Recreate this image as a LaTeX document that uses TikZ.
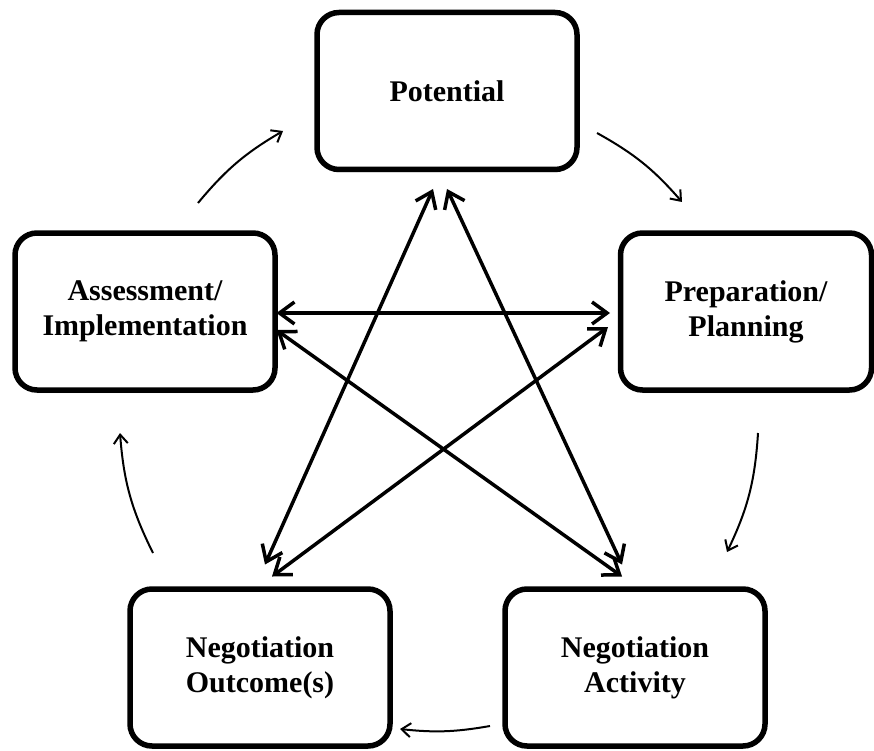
\documentclass[tikz,border=0pt]{standalone}
\usepackage{fontspec}
\setmainfont{Liberation Serif}
\usetikzlibrary{arrows.meta,calc,shadows}
\begin{document}
\begin{tikzpicture}[x=1pt,y=-1pt,
  stagebox/.style={draw=black, line width=5.5pt, rounded corners=22pt, fill=white,
    minimum width=260pt, minimum height=157pt, outer sep=0pt, align=center,
    font=\bfseries\fontsize{30}{35}\selectfont,
    drop shadow={opacity=0.22, shadow xshift=0pt, shadow yshift=-3pt}},
  dbl/.style={line width=3.5pt, {Straight Barb[length=15pt,width=22pt,line width=3.5pt]}-{Straight Barb[length=15pt,width=22pt,line width=3.5pt]}},
  cyc/.style={line width=2pt, -{Straight Barb[length=9pt,width=14pt,line width=2pt]}}
]
\useasboundingbox (0,0) rectangle (874,751);
\fill[white] (0,0) rectangle (874,751);

\node[stagebox] (pot) at (447,91) {Potential};
\node[stagebox, minimum width=251pt] (prep) at (746,311.5) {Preparation/\\Planning};
\node[stagebox] (ass) at (145,311.5) {Assessment/\\Implementation};
\node[stagebox] (out) at (260,667.5) {Negotiation\\Outcome(s)};
\node[stagebox] (act) at (635,667.5) {Negotiation\\Activity};

% star of double-headed arrows
\draw[dbl] ($(pot.south)+(-14,19.5)$) -- ($(out.north)+(5,-24.5)$);
\draw[dbl] ($(pot.south)+(0,19.5)$) -- ($(act.north)+(-13,-24.5)$);
\draw[dbl] ($(ass.east)+(1.5,1.5)$) -- ($(prep.west)+(-10.5,1.5)$);
\draw[dbl] ($(ass.east)+(1.5,18.5)$) -- ($(act.north)+(-13,-12.5)$);
\draw[dbl] ($(prep.west)+(-12.5,15.5)$) -- ($(out.north)+(12,-12.5)$);

% cycle arrows
\coordinate (c1s) at (198,203);
\coordinate (c1e) at (283,131);
\coordinate (c2s) at (597,133);
\coordinate (c2e) at (682,202);
\coordinate (c3s) at (758,433);
\coordinate (c3e) at (727,552);
\coordinate (c4s) at (490,726);
\coordinate (c4e) at (400,729);
\coordinate (c5s) at (153,553);
\coordinate (c5e) at (120,433);
\draw[cyc] (c1s) to[bend left=10] (c1e);
\draw[cyc] (c2s) to[bend left=10] (c2e);
\draw[cyc] (c3s) to[bend left=11] (c3e);
\draw[cyc] (c4s) to[bend left=8] (c4e);
\draw[cyc] (c5s) to[bend left=11] (c5e);
\end{tikzpicture}
\end{document}
